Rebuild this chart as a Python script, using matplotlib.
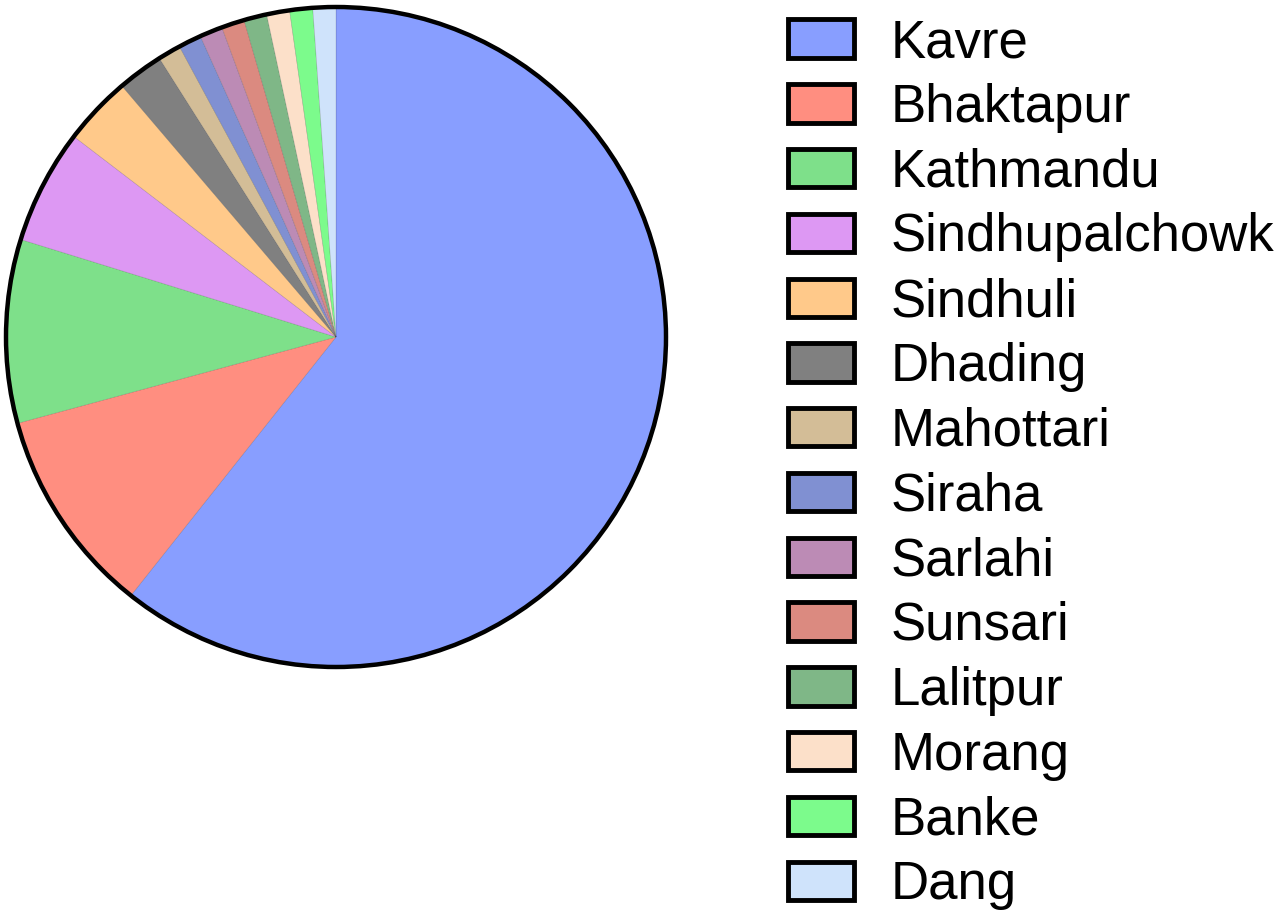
import matplotlib
matplotlib.use('Agg')
import matplotlib.pyplot as plt
from matplotlib.patches import Patch, Circle

plt.rcParams['font.family'] = ['Liberation Sans', 'DejaVu Sans']

districts = ['Kavre', 'Bhaktapur', 'Kathmandu', 'Sindhupalchowk', 'Sindhuli', 'Dhading',
             'Mahottari', 'Siraha', 'Sarlahi', 'Sunsari', 'Lalitpur', 'Morang', 'Banke', 'Dang']
counts = [54, 9, 8, 5, 3, 2, 1, 1, 1, 1, 1, 1, 1, 1]
colors = ['#889EFF', '#FF8E80', '#7EE08A', '#DD98F3', '#FFC98A', '#808080',
          '#D3BD97', '#8090D2', '#BC8BB5', '#DB8A80', '#7FB787', '#FCE0C9', '#7CFB8C', '#CFE3FB']

fig = plt.figure(figsize=(12.8, 9.15), dpi=100)
W, H = 1280, 915
cx, cy, r = 336, 337, 330
ax = fig.add_axes([(cx - r) / W, 1 - (cy + r) / H, 2 * r / W, 2 * r / H])
wedges, _ = ax.pie(counts, colors=colors, startangle=90, counterclock=False,
                   wedgeprops=dict(linewidth=0.4, edgecolor='#00000030'))
ax.add_patch(Circle((0, 0), 1, fill=False, edgecolor='black', linewidth=3.2, clip_on=False))
ax.set_xlim(-1, 1)
ax.set_ylim(-1, 1)
ax.axis('off')

handles = [Patch(facecolor=c, edgecolor='black', linewidth=3.5) for c in colors]
fig.legend(handles, districts, loc='upper left', bbox_to_anchor=(788 / W, 1 - 18 / H),
           frameon=False, fontsize=38, borderpad=0, borderaxespad=0,
           handlelength=1.25, handleheight=0.74, handletextpad=0.7, labelspacing=0.28)

fig.savefig('out.png', dpi=100)
